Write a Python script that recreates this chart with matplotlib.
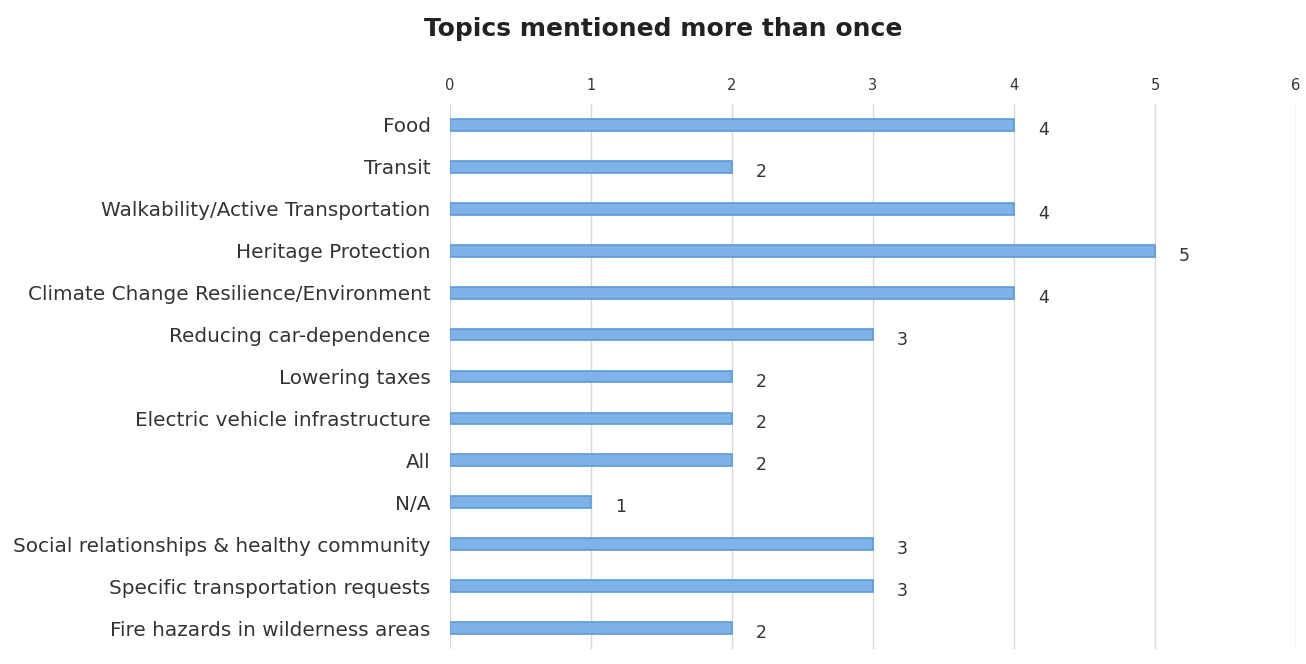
import matplotlib
matplotlib.use("Agg")
import matplotlib.pyplot as plt

# -----------------------------
# Data
# -----------------------------
topics = [
    "Food",
    "Transit",
    "Walkability/Active Transportation",
    "Heritage Protection",
    "Climate Change Resilience/Environment",
    "Reducing car-dependence",
    "Lowering taxes",
    "Electric vehicle infrastructure",
    "All",
    "N/A",
    "Social relationships & healthy community",
    "Specific transportation requests",
    "Fire hazards in wilderness areas",
]
counts = [4, 2, 4, 5, 4, 3, 2, 2, 2, 1, 3, 3, 2]
x_ticks = [0, 1, 2, 3, 4, 5, 6]

plt.rcParams["font.family"] = ["DejaVu Sans"]

fig = plt.figure(figsize=(13.06, 6.64), dpi=100)
ax = fig.add_axes([0.3446, 0.0226, 0.6477, 0.8208])

y = list(range(len(topics)))
ax.barh(y, counts, height=0.28, color="#7fb2e8", edgecolor="#5b9bd5", linewidth=1.2, zorder=3)

for yi, c in zip(y, counts):
    ax.text(c + 0.17, yi + 0.12, str(c), va="center", ha="left", fontsize=12.5, color="#333333")

ax.set_ylim(len(topics) - 0.5, -0.5)
ax.set_xlim(0, 6)
ax.set_yticks(y)
ax.set_yticklabels(topics, fontsize=14.4, color="#333333")
ax.set_xticks(x_ticks)
ax.set_xticklabels([str(t) for t in x_ticks], fontsize=10.5, color="#333333")
ax.xaxis.tick_top()
ax.tick_params(axis="x", length=0, pad=8)
ax.tick_params(axis="y", length=0, pad=14)

ax.grid(axis="x", color="#d9d9d9", linewidth=1, zorder=0)
for s in ax.spines.values():
    s.set_visible(False)

fig.suptitle("Topics mentioned more than once", x=0.508, y=0.975, fontsize=18, fontweight="bold", color="#222222")

fig.savefig("out.png", dpi=100, facecolor="white")
